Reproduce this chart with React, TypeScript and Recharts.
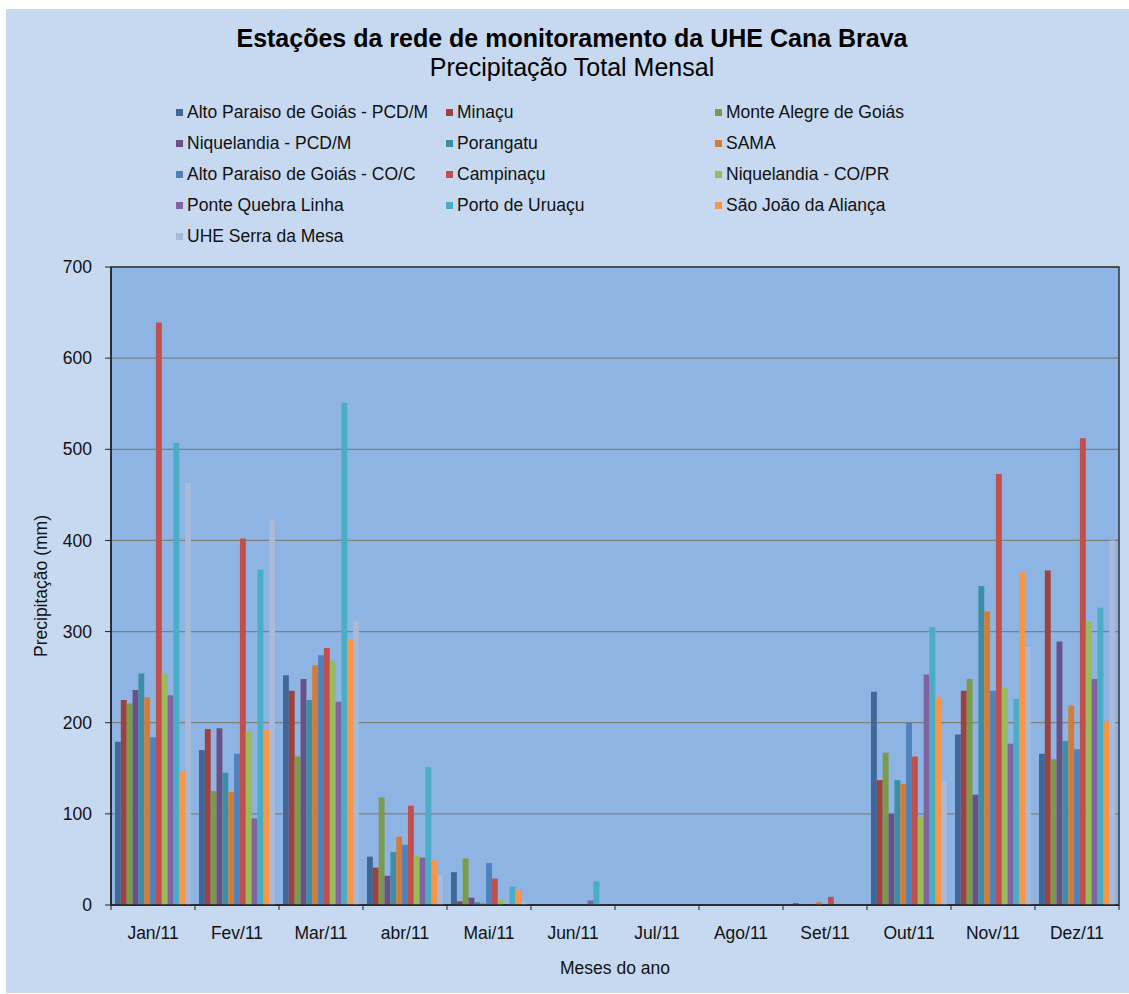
import { Bar, BarChart, CartesianGrid, Legend, ReferenceArea, XAxis, YAxis } from 'recharts';

const months = ['Jan/11', 'Fev/11', 'Mar/11', 'abr/11', 'Mai/11', 'Jun/11', 'Jul/11', 'Ago/11', 'Set/11', 'Out/11', 'Nov/11', 'Dez/11'];
const yTicks = [0, 100, 200, 300, 400, 500, 600, 700];

// precipitação total mensal (mm), jan a dez/2011
const altoParaisoPcd = [179, 170, 252, 53, 36, 0, 0, 0, 0, 234, 187, 166];
const minacu = [225, 193, 235, 41, 4, 0, 0, 0, 2, 137, 235, 367];
const monteAlegre = [221, 125, 163, 118, 51, 0, 0, 0, 0, 167, 248, 160];
const niquelandiaPcd = [236, 194, 248, 32, 8, 0, 0, 0, 0, 100, 121, 289];
const porangatu = [254, 145, 225, 58, 3, 0, 0, 0, 0, 137, 350, 180];
const sama = [228, 124, 263, 75, 2, 0, 0, 0, 3, 133, 322, 219];
const altoParaisoCo = [184, 166, 274, 66, 46, 0, 0, 0, 0, 200, 235, 171];
const campinacu = [639, 402, 282, 109, 29, 0, 0, 0, 9, 163, 473, 512];
const niquelandiaCo = [254, 190, 268, 54, 6, 0, 0, 0, 0, 97, 238, 311];
const ponteQuebra = [230, 95, 223, 52, 0, 5, 0, 0, 0, 253, 177, 248];
const portoUruacu = [507, 368, 551, 151, 20, 26, 0, 0, 0, 305, 226, 326];
const saoJoao = [146, 192, 291, 49, 16, 0, 0, 0, 0, 227, 365, 202];
const serraDaMesa = [463, 422, 312, 33, 4, 0, 0, 0, 0, 136, 283, 400];

const stations = [
  { key: 'altoParaisoPcd', name: 'Alto Paraiso de Goiás - PCD/M', values: altoParaisoPcd, color: '#3F6797' },
  { key: 'minacu', name: 'Minaçu', values: minacu, color: '#A0413D' },
  { key: 'monteAlegre', name: 'Monte Alegre de Goiás', values: monteAlegre, color: '#7E9A46' },
  { key: 'niquelandiaPcd', name: 'Niquelandia - PCD/M', values: niquelandiaPcd, color: '#6A5085' },
  { key: 'porangatu', name: 'Porangatu', values: porangatu, color: '#3B8EA5' },
  { key: 'sama', name: 'SAMA', values: sama, color: '#D27C35' },
  { key: 'altoParaisoCo', name: 'Alto Paraiso de Goiás - CO/C', values: altoParaisoCo, color: '#4F81BD' },
  { key: 'campinacu', name: 'Campinaçu', values: campinacu, color: '#C0504D' },
  { key: 'niquelandiaCo', name: 'Niquelandia - CO/PR', values: niquelandiaCo, color: '#9BBB59' },
  { key: 'ponteQuebra', name: 'Ponte Quebra Linha', values: ponteQuebra, color: '#8064A2' },
  { key: 'portoUruacu', name: 'Porto de Uruaçu', values: portoUruacu, color: '#4BACC6' },
  { key: 'saoJoao', name: 'São João da Aliança', values: saoJoao, color: '#F79646' },
  { key: 'serraDaMesa', name: 'UHE Serra da Mesa', values: serraDaMesa, color: '#A9B9D8' },
];

const data = months.map((month, i) => {
  const row: Record<string, string | number> = { month };
  stations.forEach((s) => {
    row[s.key] = s.values[i];
  });
  return row;
});

const W = 1123;
const H = 984;
const PLOT_W = 1008;
const TICK_SIZE = 5;
const TICK_MARGIN = 17;
const FONT = 17.5;

function MonthTick(props: any) {
  const { x, y, payload, index } = props;
  const half = payload.offset ?? PLOT_W / months.length / 2;
  const axisY = y - TICK_MARGIN - TICK_SIZE;
  return (
    <g>
      <line x1={x - half} x2={x - half} y1={axisY} y2={axisY + TICK_SIZE} stroke="#222" />
      {index === months.length - 1 && (
        <line x1={x + half} x2={x + half} y1={axisY} y2={axisY + TICK_SIZE} stroke="#222" />
      )}
      <text x={x} y={y} dy="0.71em" textAnchor="middle" fontSize={FONT} fill="#111">
        {payload.value}
      </text>
    </g>
  );
}

// legenda em 3 colunas, na ordem das séries
function StationLegend(props: any) {
  const order = stations.map((s) => s.name);
  const items = (props.payload && props.payload.length ? [...props.payload] : stations.map((s) => ({ value: s.name, color: s.color })))
    .sort((a: any, b: any) => order.indexOf(a.value) - order.indexOf(b.value));
  return (
    <div style={{ display: 'grid', gridTemplateColumns: '270px 269px 260px', fontSize: FONT, color: '#111' }}>
      {items.map((it: any) => (
        <div key={it.value} style={{ display: 'flex', alignItems: 'center', height: 31, whiteSpace: 'nowrap' }}>
          <span style={{ width: 7, height: 7, background: it.color, marginRight: 4, flex: 'none' }} />
          <span>{it.value}</span>
        </div>
      ))}
    </div>
  );
}

export default function App() {
  return (
    <div style={{ position: 'absolute', left: 0, top: 0, width: 1129, height: 994, background: '#fff', fontFamily: '"Liberation Sans", Arial, sans-serif' }}>
      <div style={{ position: 'absolute', left: 6, top: 9, width: W, height: H, background: '#C6D9F1' }}>
        <div style={{ position: 'absolute', left: 166, top: 17, width: 800, textAlign: 'center', fontSize: 25, fontWeight: 'bold', lineHeight: '25px', color: '#000' }}>
          Estações da rede de monitoramento da UHE Cana Brava
        </div>
        <div style={{ position: 'absolute', left: 166, top: 46, width: 800, textAlign: 'center', fontSize: 25, lineHeight: '25px', color: '#000' }}>
          Precipitação Total Mensal
        </div>
        <BarChart
          width={W}
          height={H}
          data={data}
          margin={{ top: 258, right: 10, bottom: 0, left: 0 }}
          barGap={0}
          barSize={5.85}
        >
          <CartesianGrid vertical={false} fill="#8EB4E3" stroke="#7F7F7F" strokeWidth={1.2} />
          <XAxis
            dataKey="month"
            interval={0}
            height={88}
            tickLine={false}
            tickSize={TICK_SIZE}
            tickMargin={TICK_MARGIN}
            tick={<MonthTick />}
            axisLine={{ stroke: '#222', strokeWidth: 1.5 }}
            label={{ value: 'Meses do ano', position: 'insideBottom', offset: 19, fontSize: FONT, fill: '#111' }}
          />
          <YAxis
            width={105}
            domain={[0, 700]}
            ticks={yTicks}
            interval={0}
            tickSize={6}
            tickMargin={13}
            tick={{ fontSize: FONT, fill: '#111' }}
            tickLine={{ stroke: '#222' }}
            axisLine={{ stroke: '#222', strokeWidth: 1.5 }}
            label={{ value: 'Precipitação (mm)', angle: -90, position: 'insideLeft', offset: 35, fontSize: FONT, fill: '#111', style: { textAnchor: 'middle' } }}
          />
          <ReferenceArea x1={months[0]} x2={months[months.length - 1]} y1={0} y2={700} fill="none" stroke="#333" strokeWidth={1.5} />
          <Legend
            verticalAlign="middle"
            itemSorter={null as any}
            content={<StationLegend />}
            wrapperStyle={{ top: 88, left: 170, width: 820 }}
          />
          {stations.map((s) => (
            <Bar key={s.key} dataKey={s.key} name={s.name} fill={s.color} isAnimationActive={false} />
          ))}
        </BarChart>
      </div>
    </div>
  );
}
